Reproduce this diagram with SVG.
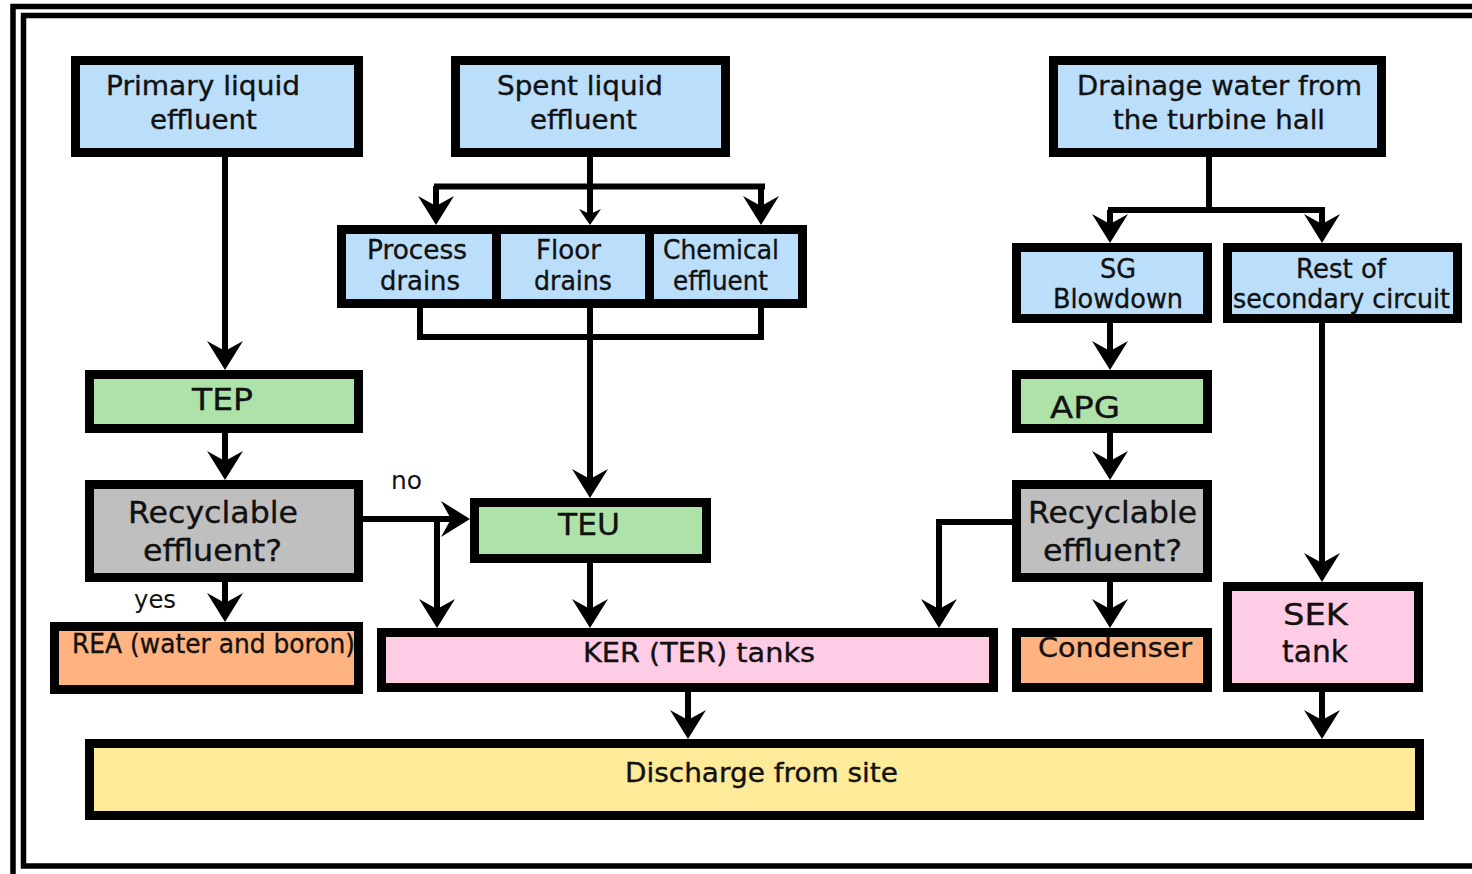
<svg xmlns="http://www.w3.org/2000/svg" width="1472" height="874" viewBox="0 0 1472 874">
<style>
.box{stroke:#000;stroke-width:9}
.blue{fill:#bbdefb}.green{fill:#ade3a9}.gray{fill:#bfbfbf}.orange{fill:#ffb380}.pink{fill:#ffcce6}.yellow{fill:#fdeb99}
text{font-family:"DejaVu Sans","Liberation Sans",sans-serif;fill:#111;font-size:26px;stroke:#111;stroke-width:0.35}
.big{font-size:30px}
.lbl{font-size:24px;stroke-width:0}
.c{fill:none;stroke:#000;stroke-width:6}
.frame{fill:none;stroke:#000}
</style>
<defs>
<marker id="ah" viewBox="-30 -19 32 38" refX="-6" refY="0" markerWidth="32" markerHeight="38" markerUnits="userSpaceOnUse" orient="auto"><path d="M0,0 L-29,-18 L-19,0 L-29,18 Z" fill="#000"/></marker>
<marker id="ahs" viewBox="-18 -12 20 24" refX="-4" refY="0" markerWidth="20" markerHeight="24" markerUnits="userSpaceOnUse" orient="auto"><path d="M0,0 L-16,-11 L-11,0 L-16,11 Z" fill="#000"/></marker>
</defs>
<rect width="1472" height="874" fill="#fff"/>
<g id="frame">
<path class="frame" d="M13,874 V6.5 H1472" stroke-width="5.5"/>
<path class="frame" d="M1472,15.5 H23.5 V866 H1472" stroke-width="5.5"/>
</g>
<g id="connectors">
<path class="c" d="M225,157 V364" marker-end="url(#ah)"/>
<path class="c" d="M590,157 V186" stroke-width="4"/>
<path class="c" d="M434,186.5 H765"/>
<path class="c" d="M436,186 V219" marker-end="url(#ah)"/>
<path class="c" d="M761,186 V219" marker-end="url(#ah)"/>
<path class="c" d="M590,186 V221" stroke-width="4" marker-end="url(#ahs)"/>
<path class="c" d="M420,308 V337 M761,308 V337 M417,337 H764"/>
<path class="c" d="M590,308 V492" marker-end="url(#ah)"/>
<path class="c" d="M225,433 V474" marker-end="url(#ah)"/>
<path class="c" d="M225,582 V616" marker-end="url(#ah)"/>
<path class="c" d="M363,519 H464" marker-end="url(#ah)"/>
<path class="c" d="M437,519 V622" marker-end="url(#ah)"/>
<path class="c" d="M590,563 V622" marker-end="url(#ah)"/>
<path class="c" d="M1012,522 H939 V622" marker-end="url(#ah)"/>
<path class="c" d="M688,692 V733" marker-end="url(#ah)"/>
<path class="c" d="M1209,157 V210 M1108,210 H1325"/>
<path class="c" d="M1110,210 V237" marker-end="url(#ah)"/>
<path class="c" d="M1322,210 V237" marker-end="url(#ah)"/>
<path class="c" d="M1110,323 V364" marker-end="url(#ah)"/>
<path class="c" d="M1110,433 V474" marker-end="url(#ah)"/>
<path class="c" d="M1110,582 V622" marker-end="url(#ah)"/>
<path class="c" d="M1322,323 V576" marker-end="url(#ah)"/>
<path class="c" d="M1322,692 V733" marker-end="url(#ah)"/>
<text class="lbl" x="391" y="489" textLength="31" lengthAdjust="spacingAndGlyphs">no</text>
<text class="lbl" x="134" y="608" textLength="42" lengthAdjust="spacingAndGlyphs">yes</text>
</g>
<g id="primary">
<rect class="box blue" x="75.5" y="60.5" width="283" height="92"/>
<text x="106" y="95" textLength="194" lengthAdjust="spacingAndGlyphs">Primary liquid</text>
<text x="150" y="129" textLength="107" lengthAdjust="spacingAndGlyphs">effluent</text>
</g>
<g id="spent">
<rect class="box blue" x="455.5" y="60.5" width="270" height="92"/>
<text x="497" y="95" textLength="166" lengthAdjust="spacingAndGlyphs">Spent liquid</text>
<text x="530" y="129" textLength="107" lengthAdjust="spacingAndGlyphs">effluent</text>
</g>
<g id="drainage">
<rect class="box blue" x="1053.5" y="60.5" width="328" height="92"/>
<text x="1077" y="95" textLength="285" lengthAdjust="spacingAndGlyphs">Drainage water from</text>
<text x="1113" y="129" textLength="212" lengthAdjust="spacingAndGlyphs">the turbine hall</text>
</g>
<g id="process">
<rect class="box blue" x="341.5" y="229.5" width="155" height="74"/>
<text x="367" y="259" textLength="100" lengthAdjust="spacingAndGlyphs">Process</text>
<text x="380" y="290" textLength="80" lengthAdjust="spacingAndGlyphs">drains</text>
</g>
<g id="floor">
<rect class="box blue" x="496.5" y="229.5" width="153" height="74"/>
<text x="536" y="259" textLength="65" lengthAdjust="spacingAndGlyphs">Floor</text>
<text x="534" y="290" textLength="78" lengthAdjust="spacingAndGlyphs">drains</text>
</g>
<g id="chemical">
<rect class="box blue" x="649.5" y="229.5" width="153" height="74"/>
<text x="663" y="259" textLength="116" lengthAdjust="spacingAndGlyphs">Chemical</text>
<text x="673" y="290" textLength="95" lengthAdjust="spacingAndGlyphs">effluent</text>
</g>
<g id="tep">
<rect class="box green" x="89.5" y="374.5" width="269" height="54"/>
<text class="big" x="192" y="410" textLength="61" lengthAdjust="spacingAndGlyphs">TEP</text>
</g>
<g id="recyclable-left">
<rect class="box gray" x="89.5" y="484.5" width="269" height="93"/>
<text class="big" x="128" y="523" textLength="170" lengthAdjust="spacingAndGlyphs">Recyclable</text>
<text class="big" x="143" y="561" textLength="139" lengthAdjust="spacingAndGlyphs">effluent?</text>
</g>
<g id="rea">
<rect class="box orange" x="54.5" y="626.5" width="304" height="63"/>
<text x="72" y="653" textLength="283" lengthAdjust="spacingAndGlyphs">REA (water and boron)</text>
</g>
<g id="teu">
<rect class="box green" x="474.5" y="502.5" width="232" height="56"/>
<text class="big" x="558" y="535" textLength="62" lengthAdjust="spacingAndGlyphs">TEU</text>
</g>
<g id="ker">
<rect class="box pink" x="381.5" y="632.5" width="612" height="55"/>
<text x="583" y="662" textLength="232" lengthAdjust="spacingAndGlyphs">KER (TER) tanks</text>
</g>
<g id="sg">
<rect class="box blue" x="1016.5" y="247.5" width="191" height="71"/>
<text x="1100" y="278" textLength="36" lengthAdjust="spacingAndGlyphs">SG</text>
<text x="1053" y="308" textLength="130" lengthAdjust="spacingAndGlyphs">Blowdown</text>
</g>
<g id="rest">
<rect class="box blue" x="1227.5" y="247.5" width="230" height="71"/>
<text x="1296" y="278" textLength="90" lengthAdjust="spacingAndGlyphs">Rest of</text>
<text x="1233" y="308" textLength="217" lengthAdjust="spacingAndGlyphs">secondary circuit</text>
</g>
<g id="apg">
<rect class="box green" x="1016.5" y="374.5" width="191" height="54"/>
<text class="big" x="1050" y="418" textLength="70" lengthAdjust="spacingAndGlyphs">APG</text>
</g>
<g id="recyclable-right">
<rect class="box gray" x="1016.5" y="484.5" width="191" height="93"/>
<text class="big" x="1028" y="523" textLength="169" lengthAdjust="spacingAndGlyphs">Recyclable</text>
<text class="big" x="1043" y="561" textLength="139" lengthAdjust="spacingAndGlyphs">effluent?</text>
</g>
<g id="condenser">
<rect class="box orange" x="1016.5" y="632.5" width="191" height="55"/>
<text x="1038" y="657" textLength="154" lengthAdjust="spacingAndGlyphs">Condenser</text>
</g>
<g id="sek">
<rect class="box pink" x="1227.5" y="586.5" width="191" height="101"/>
<text class="big" x="1283" y="625" textLength="65" lengthAdjust="spacingAndGlyphs">SEK</text>
<text class="big" x="1282" y="662" textLength="66" lengthAdjust="spacingAndGlyphs">tank</text>
</g>
<g id="discharge">
<rect class="box yellow" x="89.5" y="743.5" width="1330" height="72"/>
<text x="625" y="782" textLength="273" lengthAdjust="spacingAndGlyphs">Discharge from site</text>
</g>
</svg>
